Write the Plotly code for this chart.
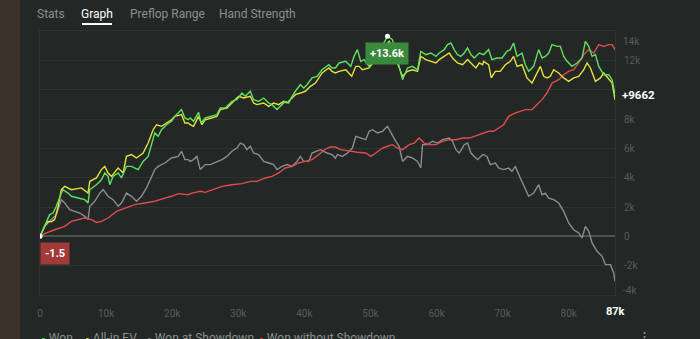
import plotly.graph_objects as go

# ---------------- data (hands in thousands, amounts in thousands) ----------------
won_x = [0, 0.71, 1.46, 1.97, 2.47, 3.23, 3.48, 4.24, 4.75, 5.76, 6.77, 7.27, 7.53, 8.54, 9.29, 9.80, 10.30, 10.56, 11.06, 11.82,
         12.32, 13.08, 13.84, 14.85, 15.61, 16.36, 16.87, 17.37, 17.88, 18.38, 19.14, 19.90, 20.40, 21.41, 21.92, 22.42,
         22.73, 23.23, 23.99, 24.39, 25.00, 26.01, 26.77, 27.27, 28.03, 29.04, 29.80, 30.56, 31.06, 31.82, 32.32, 33.08, 33.84,
         34.60, 35.10, 35.86, 36.62, 37.12, 37.63, 38.13, 38.64, 39.39, 39.90, 40.40, 41.16, 41.92, 42.68, 43.69, 44.19, 44.70,
         45.25, 46.26, 47.02, 47.52, 48.03, 48.53, 49.04, 49.80, 50.30, 51.06, 51.82, 52.57, 53.33, 53.84, 54.34, 54.85, 55.60,
         56.36, 57.12, 57.62, 58.38, 59.14, 59.90, 60.40, 61.16, 61.66, 62.17, 62.67, 63.18, 63.68, 64.19, 64.69, 65.20, 65.70,
         66.46, 66.97,
         67.12, 67.88, 68.38, 69.14, 69.90, 70.65, 71.16, 71.66, 72.17, 72.93, 73.43, 73.94, 74.69, 75.45, 75.96, 76.46, 76.97,
         77.47, 78.23, 78.73, 79.24, 79.74, 80.50, 81.26, 82.02, 82.52, 83.03, 83.53, 84.04, 84.54, 85.30, 86.06, 86.56, 87.0]
won_y = [0, 0.68, 1.48, 1.59, 2.05, 2.95, 3.18, 2.95, 2.73, 2.61, 2.50, 2.27, 3.18, 3.52, 3.86, 4.32, 4.09, 3.52, 4.09, 4.32,
         3.98, 4.77, 4.77, 4.55, 5.11, 5.45, 6.36, 7.05, 6.82, 7.27, 7.61, 7.84, 8.18, 8.64, 8.07, 7.95,
         8.07, 7.84, 8.45, 7.73, 8.07, 8.18, 8.30, 8.75, 8.75, 9.20, 9.32, 9.77, 9.55, 9.89, 9.32, 9.20, 9.43,
         9.09, 8.98, 8.64, 8.98, 9.20, 9.09, 9.55, 9.89, 10.34, 10.11, 10.34, 10.80, 10.91, 11.36, 11.70, 11.48, 11.48,
         11.82, 11.93, 11.59, 12.27, 12.73, 11.93, 12.05, 11.59, 12.0, 12.6, 13.0, 13.64, 13.41, 12.5, 11.5, 10.68, 11.48,
         11.59, 11.36, 12.61, 12.39, 12.50, 12.27, 12.50, 12.73, 13.07, 13.18, 12.73, 12.39, 12.27, 12.5, 12.84, 12.39, 12.16,
         12.5, 12.39,
         12.39, 12.73, 12.05, 12.16, 12.16, 12.61, 12.73, 13.18, 12.27, 12.5, 11.70, 11.25, 11.59, 12.73, 12.16, 12.27, 12.5,
         13.07, 12.95, 12.95, 12.27, 11.93, 11.59, 11.82, 12.16, 13.30, 12.95, 12.27, 12.39, 11.59, 11.02, 11.02, 10.68, 9.662]

ev_x = [0, 0.71, 1.21, 1.72, 2.22, 2.72, 3.23, 3.74, 4.75, 6.26, 7.27, 7.53, 8.54, 9.29, 9.80, 10.30, 10.81, 11.82, 12.58,
        13.08, 13.84, 14.60, 15.61, 16.36, 17.12, 17.63, 18.38, 19.14, 19.90, 20.40, 21.41, 21.92, 22.42,
        22.73, 23.23, 23.99, 24.50, 25.00, 26.01, 26.77, 27.27, 28.28, 29.04, 30.05, 30.81, 31.82, 32.32, 32.83, 33.84, 34.60,
        35.35, 36.11, 36.87, 37.37, 38.13, 38.64, 39.39, 40.15, 40.91, 41.67, 42.68, 43.69, 44.19, 44.70,
        45.25, 46.26, 47.17, 47.78, 48.28, 48.79, 49.80, 50.30, 51.06, 51.82, 52.83, 53.58, 54.09, 54.85, 55.60, 56.36, 57.12,
        57.62, 58.38, 59.14, 59.90, 60.40, 61.16, 61.92, 62.42, 63.18, 63.94, 64.69, 65.45, 65.96, 66.46, 66.97,
        67.12, 67.88, 68.28, 68.89, 69.64, 70.40, 71.16, 71.66, 72.17, 72.93, 73.68, 74.44, 74.95, 75.70, 76.21, 76.71, 77.22,
        77.72, 78.48, 79.24, 79.99, 80.75, 81.51, 82.27, 82.77, 83.28, 84.04, 84.79, 85.30, 86.06, 86.56, 87.0]
ev_y = [0, 0.68, 1.02, 1.0, 1.14, 2.0, 3.18, 3.41, 3.18, 3.30, 2.95, 3.75, 3.98, 4.55, 4.77, 4.32, 4.09, 4.66, 4.32,
        5.45, 5.57, 5.34, 5.68, 6.36, 7.27, 7.61, 7.50, 7.73, 7.95, 8.18, 8.30, 7.73, 7.73,
        7.61, 7.50, 8.18, 7.61, 7.95, 8.07, 8.18, 8.64, 8.75, 9.09, 9.55, 9.43, 9.55, 9.09, 8.98, 9.09, 8.86,
        9.09, 8.98, 9.20, 9.09, 9.43, 9.66, 9.77, 9.89, 10.23, 10.45, 11.14, 11.48, 11.25, 11.14,
        11.25, 11.36, 10.91, 11.59, 11.59, 11.36, 11.48, 11.8, 12.3, 12.7, 13.30, 12.73, 11.8, 10.91, 11.25, 11.36, 11.25,
        12.27, 12.05, 11.93, 11.82, 12.05, 12.27, 12.5, 12.16, 11.82, 11.70, 12.05, 11.70, 11.48, 11.82, 11.70,
        11.93, 11.70, 10.80, 11.25, 11.25, 11.70, 11.93, 12.27, 11.59, 11.70, 10.80, 10.45, 10.91, 11.59, 10.91, 10.80, 10.91,
        11.36, 11.14, 10.80, 10.57, 10.80, 10.91, 11.36, 11.82, 11.48, 10.57, 10.80, 11.14, 10.68, 10.45, 9.32]

sd_x = [0, 0.71, 1.72, 2.47, 3.23, 3.74, 4.49, 5.25, 6.01, 6.77, 7.27, 7.53, 8.28, 9.04, 9.55, 10.30, 11.06, 11.82, 12.32,
        13.08, 13.84, 14.60, 15.35, 16.11, 16.87, 17.37, 17.88, 18.89, 19.90, 20.91, 21.41, 21.92, 22.42,
        22.73, 23.23, 23.74, 24.24, 25.00, 25.76, 26.77, 27.53, 28.28, 29.04, 29.80, 30.30, 30.81, 31.31, 31.82, 32.32, 33.08,
        33.84, 34.60, 35.35, 35.86, 36.62, 37.37, 38.13, 38.89, 39.39, 39.90, 40.66, 41.16, 41.92, 42.42, 42.93, 43.43, 44.19,
        44.70,
        45.0, 45.76, 46.51, 47.27, 47.78, 48.53, 49.29, 49.80, 50.30, 51.06, 51.82, 52.57, 53.08, 53.84, 54.34, 54.85, 55.60,
        56.36, 57.12, 57.62, 57.88, 58.63, 59.39, 60.15, 60.91, 61.92, 62.42, 62.93, 63.43, 64.19, 64.69, 65.20, 65.70, 66.21,
        66.97,
        67.12, 67.62, 68.13, 68.89, 69.39, 70.15, 70.91, 71.41, 71.92, 72.67, 73.43, 73.94, 74.69, 75.45, 75.96, 76.46, 76.97,
        77.72, 78.48, 79.24, 79.99, 80.75, 81.51, 82.02, 82.52, 83.03, 83.53, 84.29, 85.05, 85.55, 86.31, 86.81, 87.0]
sd_y = [0, 0.68, 1.14, 1.48, 2.50, 2.27, 1.82, 1.70, 1.59, 1.36, 1.14, 2.05, 2.39, 2.95, 3.18, 2.73, 2.50, 2.05, 2.27,
        2.95, 2.73, 2.39, 2.73, 3.30, 4.09, 4.55, 4.77, 5.00, 5.34, 5.45, 5.80, 5.23, 5.23,
        5.11, 5.23, 5.45, 4.55, 4.89, 4.89, 5.11, 5.23, 5.45, 5.80, 6.02, 6.36, 6.25, 5.91, 6.14, 5.68, 5.57,
        5.11, 5.00, 4.89, 4.55, 4.77, 4.89, 4.77, 5.11, 5.45, 5.11, 5.11, 5.68, 5.80, 5.91, 5.80, 5.68, 5.57,
        5.34,
        5.57, 5.45, 5.68, 6.02, 6.82, 6.70, 6.59, 7.16, 7.27, 7.05, 7.16, 7.50, 7.05, 6.48, 6.14, 5.11, 5.45,
        5.34, 5.11, 4.66, 6.25, 6.25, 6.48, 6.36, 6.59, 6.70, 6.48, 5.91, 5.68, 6.25, 6.36, 5.68, 5.45, 5.23,
        5.57,
        5.57, 5.45, 4.89, 5.00, 4.66, 4.55, 4.66, 4.43, 4.77, 3.98, 3.18, 2.73, 2.95, 3.52, 2.84, 2.95, 2.61,
        2.50, 2.27, 1.70, 0.91, 0.45, 0.23, -0.11, 0.68, 0.34, -0.45, -1.02, -1.36, -1.93, -1.93, -2.50, -3.07]

nsd_x = [0, 0.71, 2.22, 3.74, 4.75, 5.76, 6.77, 7.78, 8.54, 9.29, 10.30, 11.57, 12.83, 14.34, 15.86, 17.37, 18.89, 19.90,
         20.91, 22.42,
         22.98, 24.24, 25.00, 26.01, 27.53, 29.04, 30.56, 31.82, 32.83, 34.09, 35.10, 36.11, 37.12, 38.13, 39.14, 40.15,
         41.16, 42.17, 43.18, 43.94, 44.70,
         45.50, 46.77, 48.03, 49.29, 50.05, 50.81, 51.82, 52.57, 53.33, 54.09, 54.85, 55.86, 56.61, 57.37, 58.13, 58.89,
         59.90, 60.91, 61.92, 62.93, 63.94, 64.95, 65.70, 66.46, 66.97,
         67.12, 67.88, 68.63, 69.39, 70.15, 70.91, 71.92, 72.67, 73.43, 74.44, 75.20, 75.96, 76.71, 77.47, 78.48, 79.24,
         79.99, 80.75, 81.51, 82.27, 83.03, 83.78, 84.54, 85.30, 86.06, 86.56, 87.0]
nsd_y = [0, 0.18, 0.45, 0.68, 1.02, 1.14, 1.25, 1.14, 0.95, 1.02, 1.25, 1.70, 1.93, 2.16, 2.27, 2.39, 2.61, 2.73,
         2.91, 2.84,
         2.95, 3.07, 3.0, 3.18, 3.41, 3.52, 3.59, 3.75, 3.75, 3.98, 4.09, 4.32, 4.66, 4.77, 5.00, 5.11,
         5.23, 5.57, 5.95, 6.09, 6.09,
         5.91, 5.80, 5.73, 5.68, 5.45, 5.68, 6.02, 6.14, 6.25, 6.02, 5.91, 6.25, 6.36, 6.70, 6.36, 6.25,
         6.25, 6.48, 6.59, 6.59, 6.70, 6.70, 6.82, 6.93, 6.98,
         7.05, 7.16, 7.16, 7.39, 7.61, 8.18, 8.41, 8.52, 8.64, 8.64, 8.98, 9.32, 9.77, 10.45, 10.68, 11.02,
         11.25, 11.36, 11.82, 12.39, 12.73, 12.5, 13.07, 12.95, 13.07, 13.07, 12.73]

series_names = ["Won", "All-in EV", "Won at Showdown", "Won without Showdown"]
series_colors = ["#5fe05f", "#e6e03a", "#8c8c8c", "#e04b4b"]
x_ticks = [0, 10, 20, 30, 40, 50, 60, 70, 80]
x_ticktext = ["0", "10k", "20k", "30k", "40k", "50k", "60k", "70k", "80k"]
y_ticks = [-2, 0, 2, 4, 6, 8, 10, 12]
y_ticktext = ["-2k", "0", "2k", "4k", "6k", "8k", "", "12k"]   # 10k hidden behind the last-value label
tabs = ["Stats", "Graph", "Preflop Range", "Hand Strength"]

K = 1000
BG = "#232826"
GRID = "#2f3432"
TICK = "#575c5a"

fig = go.Figure()
series = [(won_x, won_y), (ev_x, ev_y), (sd_x, sd_y), (nsd_x, nsd_y)]
# draw order: gray, red, yellow, green on top
for idx in [2, 3, 1, 0]:
    xs, ys = series[idx]
    fig.add_trace(go.Scatter(
        x=[v * K for v in xs], y=[v * K for v in ys], mode="lines",
        name=series_names[idx], line=dict(color=series_colors[idx], width=1.4),
        showlegend=False, hoverinfo="skip"))

# highlight dots (start point & peak of Won)
peak_i = won_y.index(max(won_y))
fig.add_trace(go.Scatter(
    x=[won_x[0] * K, won_x[peak_i] * K], y=[won_y[0] * K, won_y[peak_i] * K],
    mode="markers", marker=dict(color="white", size=5), showlegend=False, hoverinfo="skip"))

font = "Roboto, 'Noto Sans', sans-serif"

fig.update_layout(
    width=700, height=339,
    margin=dict(l=40, r=85, t=31, b=44),
    paper_bgcolor=BG, plot_bgcolor=BG,
    font=dict(family=font),
    showlegend=False,
    xaxis=dict(range=[0, 87 * K], tickvals=[v * K for v in x_ticks], ticktext=x_ticktext,
               showgrid=False, zeroline=False, showline=True, mirror=True, linecolor=GRID, linewidth=1,
               ticks="", tickfont=dict(size=10, color=TICK), ticklabelstandoff=9, fixedrange=True),
    yaxis=dict(range=[-4 * K, 14 * K], side="right", tickvals=[v * K for v in y_ticks], ticktext=y_ticktext,
               showgrid=True, gridcolor=GRID, gridwidth=1,
               zeroline=True, zerolinecolor="#4d514f", zerolinewidth=1.5,
               showline=True, mirror=True, linecolor=GRID, linewidth=1,
               ticks="", tickfont=dict(size=10, color=TICK), ticklabelstandoff=6, fixedrange=True),
)

# y extreme labels (shifted inside like the original)
fig.add_annotation(xref="paper", x=1, xshift=6, xanchor="left", yref="y", y=14 * K, yshift=-10, yanchor="middle",
                   text="14k", showarrow=False, font=dict(size=10, color=TICK))
fig.add_annotation(xref="paper", x=1, xshift=6, xanchor="left", yref="y", y=-4 * K, yshift=5, yanchor="middle",
                   text="-4k", showarrow=False, font=dict(size=10, color=TICK))

# last x label
fig.add_annotation(xref="x", x=87 * K, xanchor="center", yref="paper", y=0, yanchor="middle", yshift=-16,
                   text="<b>87k</b>", showarrow=False, font=dict(size=11, color="white"))

# final value label
fig.add_annotation(xref="paper", x=1, xshift=5, xanchor="left", yref="y", y=won_y[-1] * K, yanchor="middle",
                   text="<b>+%d</b>" % round(won_y[-1] * K), showarrow=False, font=dict(size=11.5, color="white"))

# peak badge
fig.add_annotation(xref="x", x=won_x[peak_i] * K, xanchor="center", yref="y", y=won_y[peak_i] * K,
                   yanchor="middle", yshift=-17,
                   text="<b>+%.1fk</b>" % won_y[peak_i], showarrow=False, bgcolor="#3a8a3d", borderpad=4,
                   font=dict(size=11, color="white"))
# start badge
fig.add_annotation(xref="x", x=won_x[0] * K, xanchor="center", yref="y", y=won_y[0] * K, xshift=15,
                   yanchor="middle", yshift=-17,
                   text="<b>-1.5</b>", showarrow=False, bgcolor="#a23a3a", borderpad=4,
                   font=dict(size=11, color="white"))

# tabs
tab_px = [51, 97, 167.5, 257.5]
for name, px in zip(tabs, tab_px):
    fig.add_annotation(xref="paper", x=(px - 40) / 575, xanchor="center", yref="paper", y=(295 - 14) / 264,
                       yanchor="middle", text=name, showarrow=False,
                       font=dict(size=12, color="white" if name == "Graph" else "#8a8f8d"))
fig.add_shape(type="line", xref="paper", yref="paper", x0=(82 - 40) / 575, x1=(112 - 40) / 575,
              y0=(295 - 24) / 264, y1=(295 - 24) / 264, line=dict(color="white", width=2))

# left dark strip
fig.add_shape(type="rect", xref="paper", yref="paper", x0=(0 - 40) / 575, x1=(20 - 40) / 575,
              y0=(295 - 339) / 264, y1=(295 - 0) / 264, fillcolor="#3a2f29", line=dict(width=0), layer="below")

# legend (bottom, partially cut)
leg_px = [39, 83, 145, 257]
for name, col, px in zip(series_names, series_colors, leg_px):
    fig.add_annotation(xref="paper", x=(px - 40) / 575, xanchor="left", yref="paper", y=(295 - 338) / 264,
                       yanchor="middle",
                       text='<span style="color:%s;font-size:8px">●</span> %s' % (col, name),
                       showarrow=False, font=dict(size=12, color="#8a8f8d"))
fig.add_annotation(xref="paper", x=(644 - 40) / 575, xanchor="center", yref="paper", y=(295 - 336) / 264,
                   yanchor="middle", text="⋮", showarrow=False, font=dict(size=13, color="#9a9f9d"))

fig.write_html("out.html")
